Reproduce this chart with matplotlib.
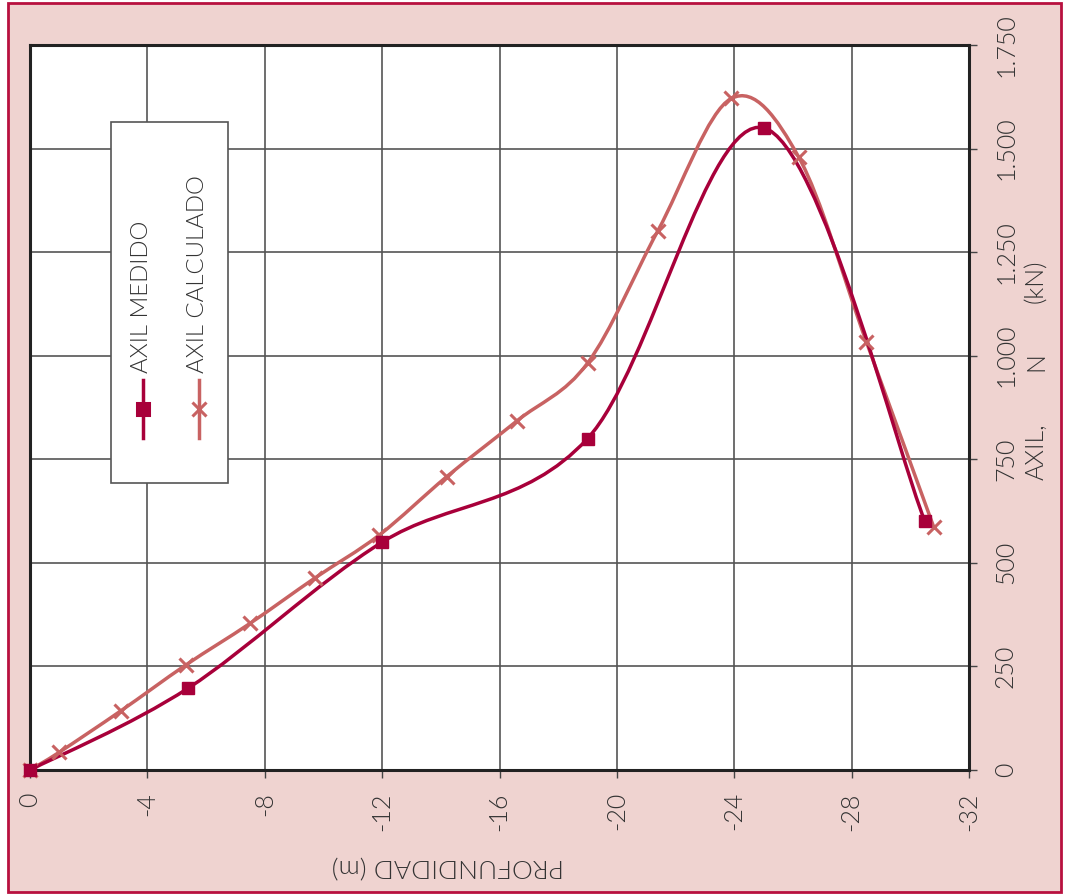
import numpy as np
import matplotlib
matplotlib.use("Agg")
import matplotlib.pyplot as plt
from matplotlib import font_manager as fm
from matplotlib.path import Path
from matplotlib.patches import PathPatch, Rectangle
from matplotlib.lines import Line2D

# Axis ticks and labels
depth_ticks = [0, -4, -8, -12, -16, -20, -24, -28, -32]
depth_tick_labels = ["0", "-4", "-8", "-12", "-16", "-20", "-24", "-28", "-32"]
axil_ticks = [0, 250, 500, 750, 1000, 1250, 1500, 1750]
axil_tick_labels = ["0", "250", "500", "750", "1.000", "1.250", "1.500", "1.750"]

# Measured axial force (kN) against depth (m)
medido_depth = [0.0, -5.4, -12.0, -19.0, -25.0, -30.5]
medido_axil = [0, 198, 550, 800, 1550, 600]

# Calculated axial force (kN) against depth (m)
calculado_depth = [0.0, -1.0, -3.1, -5.3, -7.5, -9.7, -11.9, -14.2, -16.6,
                   -19.0, -21.4, -23.9, -26.2, -28.5, -30.8]
calculado_axil = [0, 43, 143, 253, 354, 463, 567, 708, 843,
                  982, 1302, 1621, 1479, 1034, 586]

series_labels = ["AXIL MEDIDO", "AXIL CALCULADO"]
y_title_parts = ["AXIL,", "N", "(kN)"]
x_title = "PROFUNDIDAD (m)"

COL_MED = "#A8003A"
COL_CAL = "#C86262"
PINK = "#EFD3D0"
TEXT = "#333333"

W, H = 1066, 894

# pick a light-weight sans face if one is installed
FAMILY, WEIGHT = "DejaVu Sans", "normal"
for fam in ["Lato", "DejaVu Sans", "Roboto", "Open Sans", "Inter", "Noto Sans"]:
    ws = [f.weight for f in fm.fontManager.ttflist if f.name == fam]
    ws = [w for w in ws if isinstance(w, int) and 200 <= w <= 300]
    if ws:
        FAMILY, WEIGHT = fam, max(ws)
        break
plt.rcParams["font.family"] = [FAMILY, "DejaVu Sans"]
plt.rcParams["font.weight"] = WEIGHT
FS = 18


def fx(x):
    return x / W


def fy(y):
    return 1 - y / H


def smooth_path(xs, ys):
    """Cubic Bezier path through the points (Catmull-Rom tangents)."""
    p = np.column_stack([xs, ys]).astype(float)
    n = len(p)
    verts = [p[0]]
    codes = [Path.MOVETO]
    for i in range(n - 1):
        prev = p[i - 1] if i > 0 else p[i]
        nxt = p[i + 2] if i + 2 < n else p[i + 1]
        c1 = p[i] + (p[i + 1] - prev) / 6.0
        c2 = p[i + 1] - (nxt - p[i]) / 6.0
        verts += [c1, c2, p[i + 1]]
        codes += [Path.CURVE4] * 3
    return Path(verts, codes)


fig = plt.figure(figsize=(W / 100, H / 100), dpi=100, facecolor="white")

# pink panel with crimson border
fig.add_artist(Rectangle((fx(8), fy(892)), (1061 - 8) / W, (892 - 3) / H,
                         transform=fig.transFigure, facecolor=PINK,
                         edgecolor="#B8103F", lw=2.0, zorder=-5))

ax = fig.add_axes([fx(30), fy(770), (969 - 30) / W, (770 - 45) / H])
ax.set_facecolor("white")
ax.set_xlim(0, -32)
ax.set_ylim(0, 1750)

ax.set_xticks(depth_ticks)
ax.set_xticklabels(depth_tick_labels)
ax.yaxis.tick_right()
ax.set_yticks(axil_ticks)
ax.set_yticklabels(axil_tick_labels)

ax.grid(True, color="#555555", lw=1.2)
ax.set_axisbelow(True)
for s in ax.spines.values():
    s.set_color("#222222")
    s.set_linewidth(2.2)

ax.tick_params(axis="x", direction="out", length=6, width=1, color="#444444",
               pad=10, labelsize=FS, labelcolor=TEXT, labelrotation=90)
ax.tick_params(axis="y", direction="out", length=6, width=1, color="#444444",
               pad=12, labelsize=FS, labelcolor=TEXT, labelrotation=90)
for lab in ax.get_xticklabels():
    lab.set_va("top")
    lab.set_ha("center")
for lab in ax.get_yticklabels():
    lab.set_va("center")
    lab.set_ha("left")

# calculated series
ax.add_patch(PathPatch(smooth_path(calculado_depth, calculado_axil),
                       fill=False, edgecolor=COL_CAL, lw=2.5, zorder=3,
                       capstyle="round", joinstyle="round"))
ax.plot(calculado_depth, calculado_axil, ls="none", marker="x",
        markersize=10, mew=2.2, color=COL_CAL, zorder=4, clip_on=False)

# measured series
ax.add_patch(PathPatch(smooth_path(medido_depth, medido_axil),
                       fill=False, edgecolor=COL_MED, lw=2.5, zorder=3,
                       capstyle="round", joinstyle="round"))
ax.plot(medido_depth, medido_axil, ls="none", marker="s",
        markersize=8, color=COL_MED, zorder=5, clip_on=False)

# axis titles: the vertical one is widely spaced word by word, on a common
# baseline
for part, yc in zip(y_title_parts, [452, 362, 281]):
    fig.text(fx(1043), fy(yc), part, rotation=90, rotation_mode="anchor",
             ha="center", va="baseline", fontsize=FS, color=TEXT)
fig.text(fx(448), fy(865), x_title, rotation=180,
         ha="center", va="center", fontsize=FS + 1, color=TEXT)

# legend box
fig.add_artist(Rectangle((fx(111), fy(483)), (228 - 111) / W, (483 - 122) / H,
                         transform=fig.transFigure, facecolor="white",
                         edgecolor="#555555", lw=1.2, zorder=10))
for xc, col, mk, ms, lab in [(143, COL_MED, "s", 8, series_labels[0]),
                             (199, COL_CAL, "x", 10, series_labels[1])]:
    fig.add_artist(Line2D([fx(xc), fx(xc)], [fy(380), fy(438)],
                          transform=fig.transFigure, color=col, lw=2.5,
                          zorder=11))
    fig.add_artist(Line2D([fx(xc)], [fy(409)], transform=fig.transFigure,
                          color=col, marker=mk, markersize=ms, mew=2.2,
                          ls="none", zorder=12))
    fig.text(fx(xc - 1), fy(373), lab, rotation=90, ha="center",
             va="bottom", fontsize=17.3, color=TEXT, zorder=12)

fig.savefig("out.png", dpi=100, facecolor="white")
